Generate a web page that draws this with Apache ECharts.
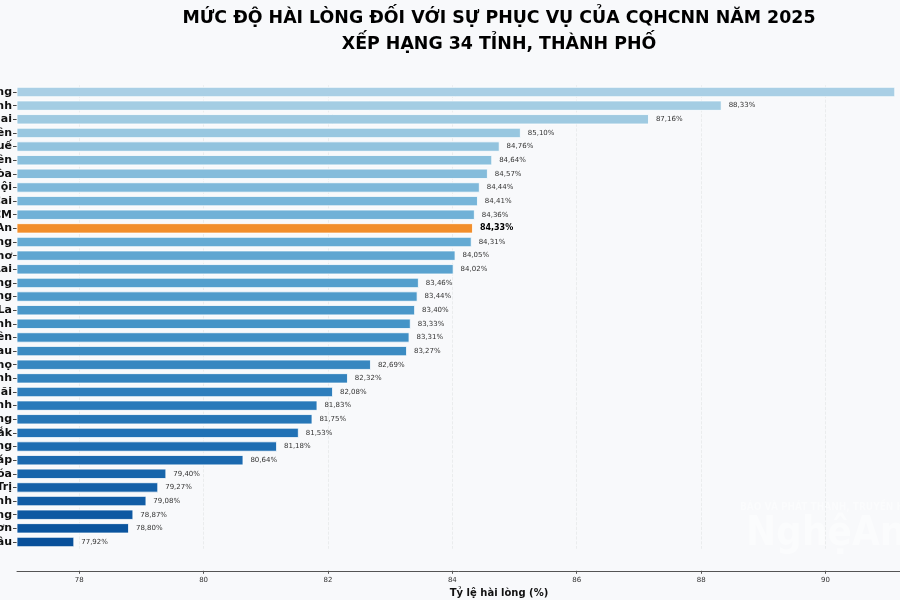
<!DOCTYPE html>
<html>
<head>
<meta charset="utf-8">
<script src="https://cdn.jsdelivr.net/npm/echarts@6/dist/echarts.min.js"></script>
<style>
  html, body { margin: 0; padding: 0; background: #f8f9fb; }
  #chart { width: 900px; height: 600px; }
</style>
</head>
<body>
<div id="chart"></div>
<script>
// danh sách tỉnh, thành (xếp hạng từ cao xuống thấp)
var provinces = [
  'Tuyên Quang', 'Quảng Ninh', 'Đồng Nai', 'Điện Biên', 'Huế', 'Hưng Yên',
  'Khánh Hòa', 'Hà Nội', 'Lào Cai', 'TP.HCM', 'Nghệ An', 'Hải Phòng',
  'Cần Thơ', 'Gia Lai', 'Đà Nẵng', 'Lâm Đồng', 'Sơn La', 'Bắc Ninh',
  'Thái Nguyên', 'Cà Mau', 'Phú Thọ', 'Hà Tĩnh', 'Quảng Ngãi', 'Ninh Bình',
  'Vĩnh Long', 'Đắk Lắk', 'Cao Bằng', 'Đồng Tháp', 'Thanh Hóa', 'Quảng Trị',
  'Tây Ninh', 'An Giang', 'Lạng Sơn', 'Lai Châu'
];
// tỷ lệ hài lòng (%)
var rates = [
  91.12, 88.33, 87.16, 85.10, 84.76, 84.64,
  84.57, 84.44, 84.41, 84.36, 84.33, 84.31,
  84.05, 84.02, 83.46, 83.44, 83.40, 83.33,
  83.31, 83.27, 82.69, 82.32, 82.08, 81.83,
  81.75, 81.53, 81.18, 80.64, 79.40, 79.27,
  79.08, 78.87, 78.80, 77.92
];
var xTicks = [78, 80, 82, 84, 86, 88, 90];
var highlight = 'Nghệ An';

// bảng màu Blues
var blues = ['#f7fbff', '#deebf7', '#c6dbef', '#9ecae1', '#6baed6', '#4292c6', '#2171b5', '#08519c', '#08306b'];
function hex2rgb(h) {
  return [parseInt(h.substr(1, 2), 16), parseInt(h.substr(3, 2), 16), parseInt(h.substr(5, 2), 16)];
}
function bluesAt(t) {
  var p = t * (blues.length - 1);
  var i = Math.min(Math.floor(p), blues.length - 2);
  var f = p - i;
  var a = hex2rgb(blues[i]), b = hex2rgb(blues[i + 1]);
  var c = a.map(function (v, k) { return Math.round(v + (b[k] - v) * f); });
  return 'rgb(' + c.join(',') + ')';
}

var font = 'DejaVu Sans';
var n = provinces.length;
var barData = rates.map(function (v, i) {
  var isHl = provinces[i] === highlight;
  return {
    value: v,
    itemStyle: { color: isHl ? '#f28e2b' : bluesAt(0.34 + 0.54 * i / (n - 1)) },
    label: isHl ? { fontWeight: 'bold', fontSize: 8, color: '#000' } : {}
  };
});

var myChart = echarts.init(document.getElementById('chart'));
var option = {
  backgroundColor: '#f8f9fb',
  animation: false,
  title: {
    text: 'MỨC ĐỘ HÀI LÒNG ĐỐI VỚI SỰ PHỤC VỤ CỦA CQHCNN NĂM 2025\nXẾP HẠNG 34 TỈNH, THÀNH PHỐ',
    left: 494,
    top: 0,
    textAlign: 'center',
    textStyle: { fontFamily: font, fontWeight: 'bold', fontSize: 17.4, lineHeight: 26, color: '#000' }
  },
  grid: { left: 17, right: -81, top: 85.2, bottom: 51.2, outerBoundsMode: 'none' },
  xAxis: {
    type: 'value',
    min: 77,
    max: 92.5,
    offset: 22,
    name: 'Tỷ lệ hài lòng (%)',
    nameLocation: 'middle',
    nameGap: 13,
    nameTextStyle: { fontFamily: font, fontWeight: 'bold', fontSize: 10, color: '#111' },
    axisLine: { show: true, lineStyle: { color: '#555', width: 1 } },
    axisTick: { show: true, length: 3, lineStyle: { color: '#555' }, customValues: xTicks },
    axisLabel: { fontFamily: font, fontSize: 7, color: '#333', margin: 6, customValues: xTicks },
    splitLine: { show: true, lineStyle: { color: '#e6e8ea', type: 'dashed', width: 0.8 } }
  },
  yAxis: {
    type: 'category',
    inverse: true,
    data: provinces,
    axisLine: { show: false },
    axisTick: { show: true, length: 4, lineStyle: { color: '#444' }, alignWithLabel: true, interval: 0 },
    axisLabel: { fontFamily: font, fontWeight: 'bold', fontSize: 11, color: '#111', margin: 5, interval: 0 }
  },
  series: [
    {
      type: 'bar',
      data: barData,
      barWidth: '75%',
      itemStyle: { borderColor: '#ffffff', borderWidth: 0.8 },
      label: {
        show: true,
        position: 'right',
        distance: 7,
        fontFamily: font,
        fontSize: 7,
        color: '#333',
        formatter: function (p) { return p.value.toFixed(2).replace('.', ',') + '%'; }
      }
    }
  ],
  graphic: [
    {
      type: 'text', left: 740, top: 502,
      style: { text: 'BÁO VÀ PHÁT THANH, TRUYỀN HÌNH', font: 'bold 10px "DejaVu Sans Condensed", "DejaVu Sans"', fill: 'rgba(255,255,255,0.45)' }
    },
    {
      type: 'text', left: 746, top: 515,
      style: { text: 'NghệAn', font: 'bold 40px "DejaVu Sans Condensed", "DejaVu Sans"', fill: 'rgba(255,255,255,0.45)' }
    }
  ]
};
myChart.setOption(option);
</script>
</body>
</html>
